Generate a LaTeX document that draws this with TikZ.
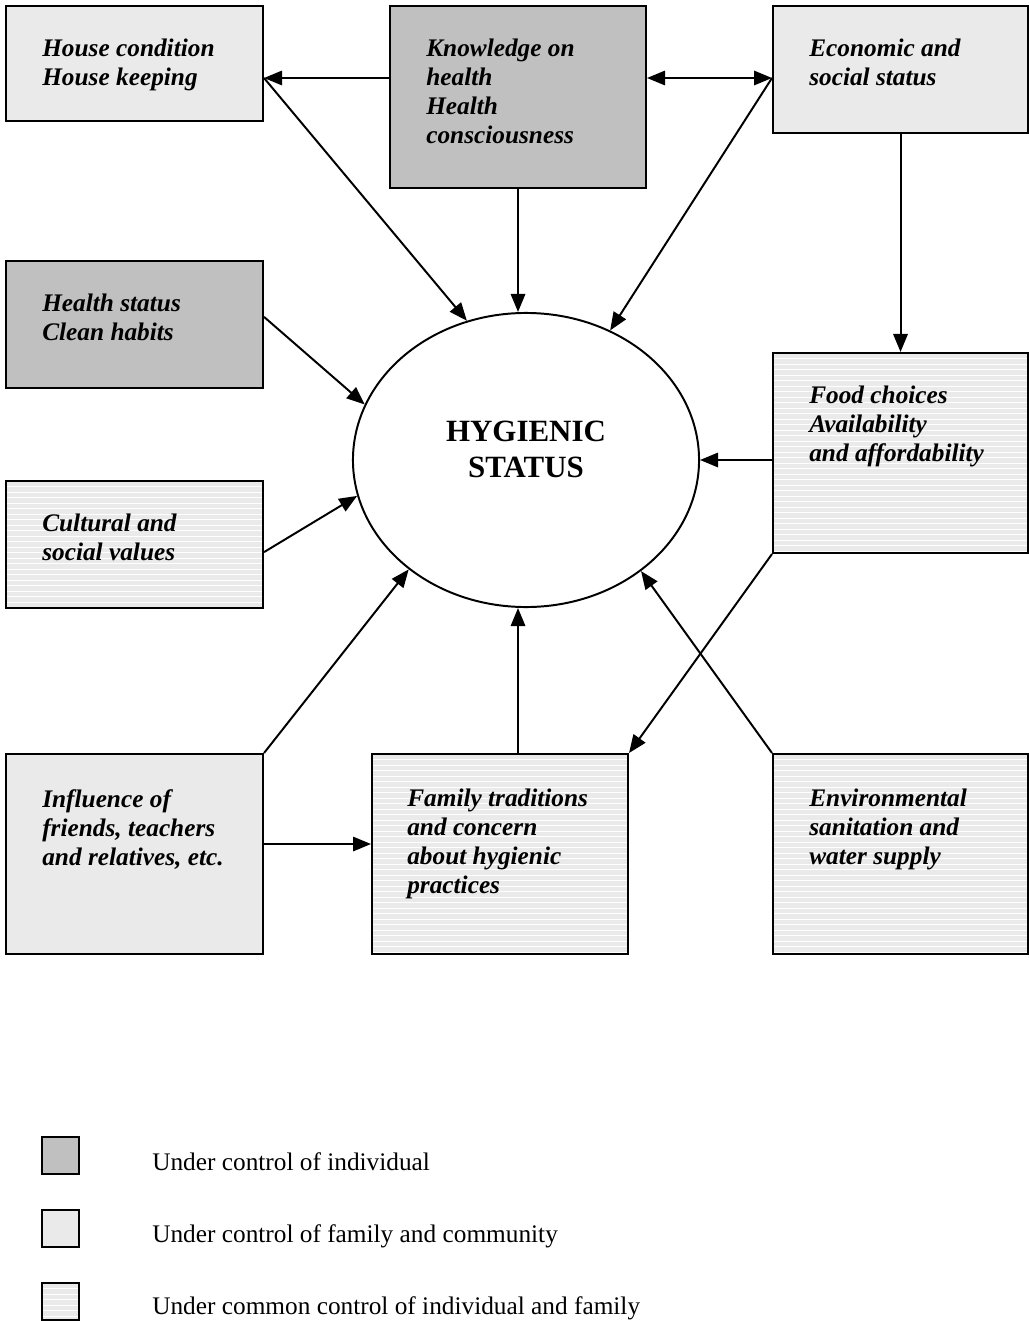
\documentclass[tikz,border=0pt]{standalone}
\usepackage{fontspec}
\setmainfont{Liberation Serif}
\usetikzlibrary{arrows.meta,shapes.geometric}
\definecolor{lightgr}{HTML}{EAEAEA}
\definecolor{darkgr}{HTML}{C0C0C0}

\begin{document}
\begin{tikzpicture}[x=0.025cm, y=-0.025cm, >={Triangle[length=0.45cm,width=0.36cm]},
    box/.style={draw, rectangle, anchor=north west, line width=1.4pt, inner sep=0pt},
    lbox/.style={box, fill=lightgr},
    dbox/.style={box, fill=darkgr},
    sbox/.style={box, fill=lightgr, path picture={
        \foreach \k in {1,...,40}
            \draw [white, line width=0.6pt] ([yshift=-\k*0.1375cm]path picture bounding box.north west) -- ([yshift=-\k*0.1375cm]path picture bounding box.north east);}},
    txt/.style={anchor=north west, align=left, inner sep=0pt, font=\fontsize{18}{20.6}\selectfont\bfseries\itshape},
    legtxt/.style={anchor=base west, inner sep=0pt, font=\fontsize{18}{21}\selectfont},
    link/.style={->, line width=1.4pt}]
    \useasboundingbox (0,0) rectangle (1028,1321);

    % boxes round the centre
    \node [lbox, minimum width=6.425cm, minimum height=2.875cm] (house) at (5,5) {};
    \node [dbox, minimum width=6.4cm, minimum height=4.55cm] (know) at (389,5) {};
    \node [lbox, minimum width=6.375cm, minimum height=3.175cm] (econ) at (772,5) {};
    \node [dbox, minimum width=6.425cm, minimum height=3.175cm] (health) at (5,260) {};
    \node [sbox, minimum width=6.425cm, minimum height=3.175cm] (cult) at (5,480) {};
    \node [sbox, minimum width=6.375cm, minimum height=5cm] (food) at (772,352) {};
    \node [lbox, minimum width=6.425cm, minimum height=5cm] (infl) at (5,753) {};
    \node [sbox, minimum width=6.4cm, minimum height=5cm] (family) at (371,753) {};
    \node [sbox, minimum width=6.375cm, minimum height=5cm] (env) at (772,753) {};

    \node [txt] (housetxt) at ([shift={(0.925cm,-0.85cm)}]house.north west) {House condition\\House keeping};
    \node [txt] (knowtxt) at ([shift={(0.925cm,-0.85cm)}]know.north west) {Knowledge on\\health\\Health\\consciousness};
    \node [txt] (econtxt) at ([shift={(0.925cm,-0.85cm)}]econ.north west) {Economic and\\social status};
    \node [txt] (healthtxt) at ([shift={(0.925cm,-0.85cm)}]health.north west) {Health status\\Clean habits};
    \node [txt] (culttxt) at ([shift={(0.925cm,-0.85cm)}]cult.north west) {Cultural and\\social values};
    \node [txt] (foodtxt) at ([shift={(0.925cm,-0.85cm)}]food.north west) {Food choices\\Availability\\and affordability};
    \node [txt] (infltxt) at ([shift={(0.925cm,-0.9cm)}]infl.north west) {Influence of\\friends, teachers\\and relatives, etc.};
    \node [txt] (familytxt) at ([shift={(0.9cm,-0.9cm)}]family.north west) {Family traditions\\and concern\\about hygienic\\practices};
    \node [txt] (envtxt) at ([shift={(0.925cm,-0.9cm)}]env.north west) {Environmental\\sanitation and\\water supply};

    % centre
    \node [draw, ellipse, line width=1.4pt, minimum width=8.65cm, minimum height=7.35cm, inner sep=0pt,
           align=center, font=\fontsize{22}{25.6}\selectfont\bfseries] (hs) at (526,460) {HYGIENIC\\STATUS\\[-0.35cm]\mbox{}};

    % connectors
    \coordinate (toprow) at (0,78);
    \draw [link] (know.west |- toprow) -- (house.east |- toprow);
    \draw [link] (house.east |- toprow) -- (hs.113.9);
    \draw [link, <->] (know.east |- toprow) -- (econ.west |- toprow);
    \draw [link] (econ.west |- toprow) -- (hs.57);
    \draw [link] (know.south) -- (know.south |- hs.north);
    \draw [link] (econ.south) -- (food.north);
    \draw [link] ([yshift=0.19cm]health.east) -- (hs.161);
    \draw [link] ([yshift=-0.19cm]cult.east) -- (hs.192.7);
    \draw [link] (hs.east -| food.west) -- (hs.east);
    \draw [link] (food.south west) -- (family.north east);
    \draw [link] (infl.north east) -- (hs.223);
    \draw [link] (env.north west) -- (hs.316.5);
    \draw [link] ([yshift=0.25cm]infl.east) -- ([yshift=0.25cm]family.west);
    \draw [link] (family.north -| know.south) -- (hs.south -| know.south);

    % legend
    \node [dbox, minimum width=0.925cm, minimum height=0.925cm] (keyind) at (41,1136) {};
    \node [lbox, minimum width=0.925cm, minimum height=0.925cm] (keyfam) at (41,1209) {};
    \node [sbox, minimum width=0.925cm, minimum height=0.925cm] (keycom) at (41,1282) {};
    \node [legtxt] (keyindtxt) at (152,1170) {Under control of individual};
    \node [legtxt] (keyfamtxt) at (152,1242) {Under control of family and community};
    \node [legtxt] (keycomtxt) at (152,1314) {Under common control of individual and family};
\end{tikzpicture}
\end{document}
